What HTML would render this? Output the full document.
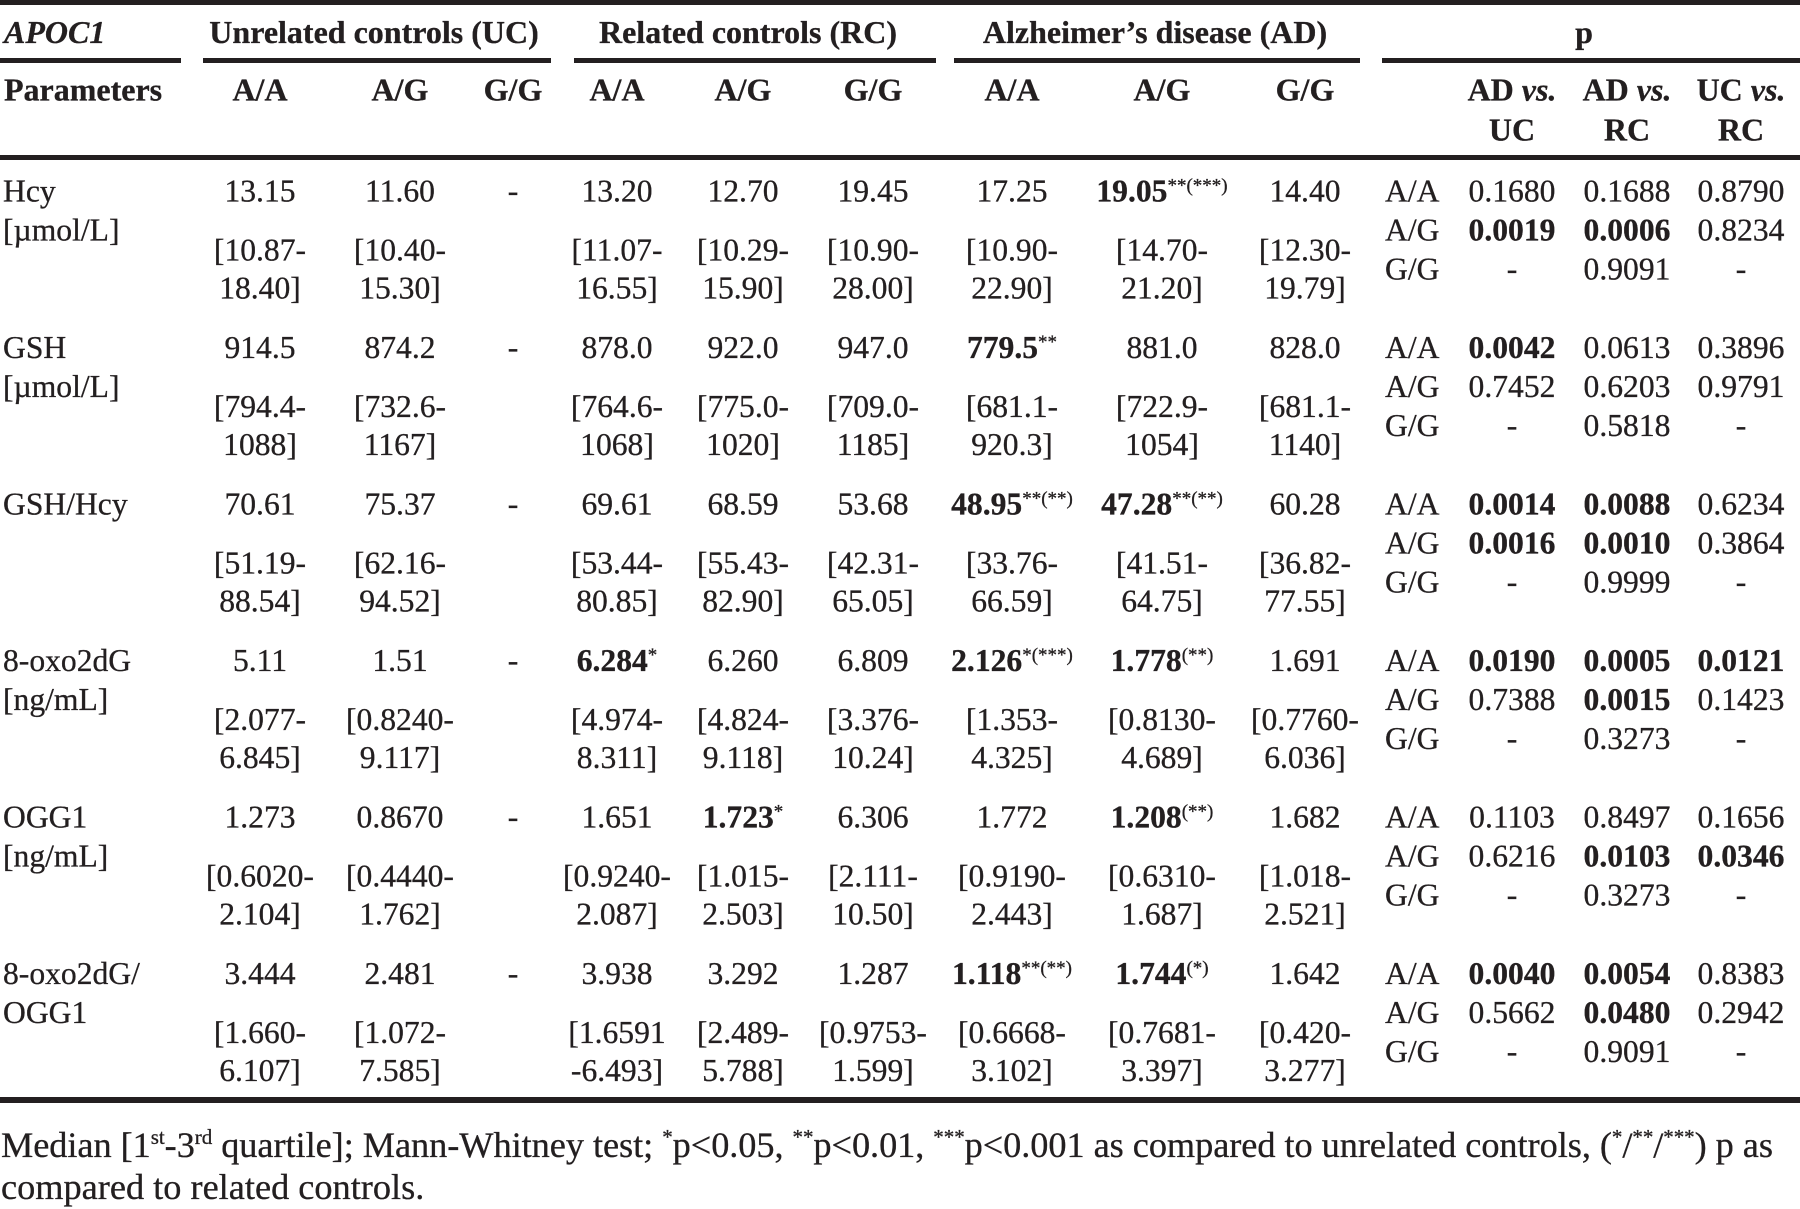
<!DOCTYPE html>
<html>
<head>
<meta charset="utf-8">
<style>
html,body{margin:0;padding:0;background:#fff;}
svg{display:block;}
text{font-family:"Liberation Serif","Times New Roman",serif;fill:#231f20;stroke:#231f20;stroke-width:0.3px;}
.h{font-size:32px;font-weight:bold;}
.d{font-size:31.6px;}
.c{text-anchor:middle;}
.b{font-weight:bold;}
.i{font-style:italic;}
</style>
</head>
<body>
<svg width="1800" height="1209" viewBox="0 0 1800 1209" xmlns="http://www.w3.org/2000/svg">
<!-- rules -->
<g fill="#231f20">
<rect x="0" y="0" width="1800" height="5"/>
<rect x="0" y="58" width="181" height="5"/>
<rect x="203" y="58" width="348" height="5"/>
<rect x="574" y="58" width="362" height="5"/>
<rect x="954" y="58" width="406" height="5"/>
<rect x="1382" y="58" width="418" height="5"/>
<rect x="0" y="155" width="1800" height="5"/>
<rect x="0" y="1097" width="1800" height="6"/>
</g>

<!-- header row 1 -->
<text x="4" y="43" class="h i">APOC1</text>
<text x="374" y="43" class="h c">Unrelated controls (UC)</text>
<text x="748" y="43" class="h c">Related controls (RC)</text>
<text x="1155" y="43" class="h c">Alzheimer’s disease (AD)</text>
<text x="1584" y="43" class="h c">p</text>

<!-- header row 2 -->
<text x="4" y="100.7" class="h">Parameters</text>
<g class="h c">
<text x="260" y="100.7">A/A</text>
<text x="400" y="100.7">A/G</text>
<text x="513" y="100.7">G/G</text>
<text x="617" y="100.7">A/A</text>
<text x="743" y="100.7">A/G</text>
<text x="873" y="100.7">G/G</text>
<text x="1012" y="100.7">A/A</text>
<text x="1162" y="100.7">A/G</text>
<text x="1305" y="100.7">G/G</text>
<text x="1512" y="100.7">AD <tspan class="i">vs.</tspan></text>
<text x="1512" y="140.7">UC</text>
<text x="1627" y="100.7">AD <tspan class="i">vs.</tspan></text>
<text x="1627" y="140.7">RC</text>
<text x="1741" y="100.7">UC <tspan class="i">vs.</tspan></text>
<text x="1741" y="140.7">RC</text>
</g>

<!-- labels -->
<g class="d">
<text x="3" y="201.7">Hcy</text>
<text x="3" y="240.5">[µmol/L]</text>
<text x="3" y="358.2">GSH</text>
<text x="3" y="397">[µmol/L]</text>
<text x="3" y="514.7">GSH/Hcy</text>
<text x="3" y="671.2">8-oxo2dG</text>
<text x="3" y="710">[ng/mL]</text>
<text x="3" y="827.7">OGG1</text>
<text x="3" y="866.5">[ng/mL]</text>
<text x="3" y="984.2">8-oxo2dG/</text>
<text x="3" y="1023">OGG1</text>
</g>

<!-- data -->
<g class="d c">
<!-- Row 1: Hcy  B=201.7 -->
<text x="260" y="201.7">13.15</text><text x="260" y="260.4">[10.87-</text><text x="260" y="298.5">18.40]</text>
<text x="400" y="201.7">11.60</text><text x="400" y="260.4">[10.40-</text><text x="400" y="298.5">15.30]</text>
<text x="513" y="201.7">-</text>
<text x="617" y="201.7">13.20</text><text x="617" y="260.4">[11.07-</text><text x="617" y="298.5">16.55]</text>
<text x="743" y="201.7">12.70</text><text x="743" y="260.4">[10.29-</text><text x="743" y="298.5">15.90]</text>
<text x="873" y="201.7">19.45</text><text x="873" y="260.4">[10.90-</text><text x="873" y="298.5">28.00]</text>
<text x="1012" y="201.7">17.25</text><text x="1012" y="260.4">[10.90-</text><text x="1012" y="298.5">22.90]</text>
<text x="1162" y="201.7"><tspan class="b">19.05</tspan><tspan font-size="19" dy="-10">**(***)</tspan></text><text x="1162" y="260.4">[14.70-</text><text x="1162" y="298.5">21.20]</text>
<text x="1305" y="201.7">14.40</text><text x="1305" y="260.4">[12.30-</text><text x="1305" y="298.5">19.79]</text>

<!-- Row 2: GSH B=358.2 -->
<text x="260" y="358.2">914.5</text><text x="260" y="416.9">[794.4-</text><text x="260" y="455">1088]</text>
<text x="400" y="358.2">874.2</text><text x="400" y="416.9">[732.6-</text><text x="400" y="455">1167]</text>
<text x="513" y="358.2">-</text>
<text x="617" y="358.2">878.0</text><text x="617" y="416.9">[764.6-</text><text x="617" y="455">1068]</text>
<text x="743" y="358.2">922.0</text><text x="743" y="416.9">[775.0-</text><text x="743" y="455">1020]</text>
<text x="873" y="358.2">947.0</text><text x="873" y="416.9">[709.0-</text><text x="873" y="455">1185]</text>
<text x="1012" y="358.2"><tspan class="b">779.5</tspan><tspan font-size="19" dy="-10">**</tspan></text><text x="1012" y="416.9">[681.1-</text><text x="1012" y="455">920.3]</text>
<text x="1162" y="358.2">881.0</text><text x="1162" y="416.9">[722.9-</text><text x="1162" y="455">1054]</text>
<text x="1305" y="358.2">828.0</text><text x="1305" y="416.9">[681.1-</text><text x="1305" y="455">1140]</text>

<!-- Row 3: GSH/Hcy B=514.7 -->
<text x="260" y="514.7">70.61</text><text x="260" y="573.4">[51.19-</text><text x="260" y="611.5">88.54]</text>
<text x="400" y="514.7">75.37</text><text x="400" y="573.4">[62.16-</text><text x="400" y="611.5">94.52]</text>
<text x="513" y="514.7">-</text>
<text x="617" y="514.7">69.61</text><text x="617" y="573.4">[53.44-</text><text x="617" y="611.5">80.85]</text>
<text x="743" y="514.7">68.59</text><text x="743" y="573.4">[55.43-</text><text x="743" y="611.5">82.90]</text>
<text x="873" y="514.7">53.68</text><text x="873" y="573.4">[42.31-</text><text x="873" y="611.5">65.05]</text>
<text x="1012" y="514.7"><tspan class="b">48.95</tspan><tspan font-size="19" dy="-10">**(**)</tspan></text><text x="1012" y="573.4">[33.76-</text><text x="1012" y="611.5">66.59]</text>
<text x="1162" y="514.7"><tspan class="b">47.28</tspan><tspan font-size="19" dy="-10">**(**)</tspan></text><text x="1162" y="573.4">[41.51-</text><text x="1162" y="611.5">64.75]</text>
<text x="1305" y="514.7">60.28</text><text x="1305" y="573.4">[36.82-</text><text x="1305" y="611.5">77.55]</text>

<!-- Row 4: 8-oxo2dG B=671.2 -->
<text x="260" y="671.2">5.11</text><text x="260" y="729.9">[2.077-</text><text x="260" y="768">6.845]</text>
<text x="400" y="671.2">1.51</text><text x="400" y="729.9">[0.8240-</text><text x="400" y="768">9.117]</text>
<text x="513" y="671.2">-</text>
<text x="617" y="671.2"><tspan class="b">6.284</tspan><tspan font-size="19" dy="-10">*</tspan></text><text x="617" y="729.9">[4.974-</text><text x="617" y="768">8.311]</text>
<text x="743" y="671.2">6.260</text><text x="743" y="729.9">[4.824-</text><text x="743" y="768">9.118]</text>
<text x="873" y="671.2">6.809</text><text x="873" y="729.9">[3.376-</text><text x="873" y="768">10.24]</text>
<text x="1012" y="671.2"><tspan class="b">2.126</tspan><tspan font-size="19" dy="-10">*(***)</tspan></text><text x="1012" y="729.9">[1.353-</text><text x="1012" y="768">4.325]</text>
<text x="1162" y="671.2"><tspan class="b">1.778</tspan><tspan font-size="19" dy="-10">(**)</tspan></text><text x="1162" y="729.9">[0.8130-</text><text x="1162" y="768">4.689]</text>
<text x="1305" y="671.2">1.691</text><text x="1305" y="729.9">[0.7760-</text><text x="1305" y="768">6.036]</text>

<!-- Row 5: OGG1 B=827.7 -->
<text x="260" y="827.7">1.273</text><text x="260" y="886.4">[0.6020-</text><text x="260" y="924.5">2.104]</text>
<text x="400" y="827.7">0.8670</text><text x="400" y="886.4">[0.4440-</text><text x="400" y="924.5">1.762]</text>
<text x="513" y="827.7">-</text>
<text x="617" y="827.7">1.651</text><text x="617" y="886.4">[0.9240-</text><text x="617" y="924.5">2.087]</text>
<text x="743" y="827.7"><tspan class="b">1.723</tspan><tspan font-size="19" dy="-10">*</tspan></text><text x="743" y="886.4">[1.015-</text><text x="743" y="924.5">2.503]</text>
<text x="873" y="827.7">6.306</text><text x="873" y="886.4">[2.111-</text><text x="873" y="924.5">10.50]</text>
<text x="1012" y="827.7">1.772</text><text x="1012" y="886.4">[0.9190-</text><text x="1012" y="924.5">2.443]</text>
<text x="1162" y="827.7"><tspan class="b">1.208</tspan><tspan font-size="19" dy="-10">(**)</tspan></text><text x="1162" y="886.4">[0.6310-</text><text x="1162" y="924.5">1.687]</text>
<text x="1305" y="827.7">1.682</text><text x="1305" y="886.4">[1.018-</text><text x="1305" y="924.5">2.521]</text>

<!-- Row 6: 8-oxo2dG/OGG1 B=984.2 -->
<text x="260" y="984.2">3.444</text><text x="260" y="1042.9">[1.660-</text><text x="260" y="1081">6.107]</text>
<text x="400" y="984.2">2.481</text><text x="400" y="1042.9">[1.072-</text><text x="400" y="1081">7.585]</text>
<text x="513" y="984.2">-</text>
<text x="617" y="984.2">3.938</text><text x="617" y="1042.9">[1.6591</text><text x="617" y="1081">-6.493]</text>
<text x="743" y="984.2">3.292</text><text x="743" y="1042.9">[2.489-</text><text x="743" y="1081">5.788]</text>
<text x="873" y="984.2">1.287</text><text x="873" y="1042.9">[0.9753-</text><text x="873" y="1081">1.599]</text>
<text x="1012" y="984.2"><tspan class="b">1.118</tspan><tspan font-size="19" dy="-10">**(**)</tspan></text><text x="1012" y="1042.9">[0.6668-</text><text x="1012" y="1081">3.102]</text>
<text x="1162" y="984.2"><tspan class="b">1.744</tspan><tspan font-size="19" dy="-10">(*)</tspan></text><text x="1162" y="1042.9">[0.7681-</text><text x="1162" y="1081">3.397]</text>
<text x="1305" y="984.2">1.642</text><text x="1305" y="1042.9">[0.420-</text><text x="1305" y="1081">3.277]</text>
</g>

<!-- p genotype labels -->
<g class="d">
<text x="1385" y="201.7">A/A</text><text x="1385" y="240.5">A/G</text><text x="1385" y="279.3">G/G</text>
<text x="1385" y="358.2">A/A</text><text x="1385" y="397">A/G</text><text x="1385" y="435.8">G/G</text>
<text x="1385" y="514.7">A/A</text><text x="1385" y="553.5">A/G</text><text x="1385" y="592.3">G/G</text>
<text x="1385" y="671.2">A/A</text><text x="1385" y="710">A/G</text><text x="1385" y="748.8">G/G</text>
<text x="1385" y="827.7">A/A</text><text x="1385" y="866.5">A/G</text><text x="1385" y="905.3">G/G</text>
<text x="1385" y="984.2">A/A</text><text x="1385" y="1023">A/G</text><text x="1385" y="1061.8">G/G</text>
</g>

<!-- p values -->
<g class="d c">
<text x="1512" y="201.7">0.1680</text><text x="1627" y="201.7">0.1688</text><text x="1741" y="201.7">0.8790</text>
<text x="1512" y="240.5" class="b">0.0019</text><text x="1627" y="240.5" class="b">0.0006</text><text x="1741" y="240.5">0.8234</text>
<text x="1512" y="279.3">-</text><text x="1627" y="279.3">0.9091</text><text x="1741" y="279.3">-</text>

<text x="1512" y="358.2" class="b">0.0042</text><text x="1627" y="358.2">0.0613</text><text x="1741" y="358.2">0.3896</text>
<text x="1512" y="397">0.7452</text><text x="1627" y="397">0.6203</text><text x="1741" y="397">0.9791</text>
<text x="1512" y="435.8">-</text><text x="1627" y="435.8">0.5818</text><text x="1741" y="435.8">-</text>

<text x="1512" y="514.7" class="b">0.0014</text><text x="1627" y="514.7" class="b">0.0088</text><text x="1741" y="514.7">0.6234</text>
<text x="1512" y="553.5" class="b">0.0016</text><text x="1627" y="553.5" class="b">0.0010</text><text x="1741" y="553.5">0.3864</text>
<text x="1512" y="592.3">-</text><text x="1627" y="592.3">0.9999</text><text x="1741" y="592.3">-</text>

<text x="1512" y="671.2" class="b">0.0190</text><text x="1627" y="671.2" class="b">0.0005</text><text x="1741" y="671.2" class="b">0.0121</text>
<text x="1512" y="710">0.7388</text><text x="1627" y="710" class="b">0.0015</text><text x="1741" y="710">0.1423</text>
<text x="1512" y="748.8">-</text><text x="1627" y="748.8">0.3273</text><text x="1741" y="748.8">-</text>

<text x="1512" y="827.7">0.1103</text><text x="1627" y="827.7">0.8497</text><text x="1741" y="827.7">0.1656</text>
<text x="1512" y="866.5">0.6216</text><text x="1627" y="866.5" class="b">0.0103</text><text x="1741" y="866.5" class="b">0.0346</text>
<text x="1512" y="905.3">-</text><text x="1627" y="905.3">0.3273</text><text x="1741" y="905.3">-</text>

<text x="1512" y="984.2" class="b">0.0040</text><text x="1627" y="984.2" class="b">0.0054</text><text x="1741" y="984.2">0.8383</text>
<text x="1512" y="1023">0.5662</text><text x="1627" y="1023" class="b">0.0480</text><text x="1741" y="1023">0.2942</text>
<text x="1512" y="1061.8">-</text><text x="1627" y="1061.8">0.9091</text><text x="1741" y="1061.8">-</text>
</g>

<!-- footnote -->
<text x="1" y="1157" font-size="36.3" textLength="1772" lengthAdjust="spacing">Median [1<tspan font-size="21" dy="-13">st</tspan><tspan dy="13">-3</tspan><tspan font-size="21" dy="-13">rd</tspan><tspan dy="13"> quartile]; Mann-Whitney test; </tspan><tspan font-size="21" dy="-13">*</tspan><tspan dy="13">p&lt;0.05, </tspan><tspan font-size="21" dy="-13">**</tspan><tspan dy="13">p&lt;0.01, </tspan><tspan font-size="21" dy="-13">***</tspan><tspan dy="13">p&lt;0.001 as compared to unrelated controls, (</tspan><tspan font-size="21" dy="-13">*</tspan><tspan dy="13">/</tspan><tspan font-size="21" dy="-13">**</tspan><tspan dy="13">/</tspan><tspan font-size="21" dy="-13">***</tspan><tspan dy="13">) p as</tspan></text>
<text x="1" y="1199" font-size="36.3">compared to related controls.</text>
</svg>
</body>
</html>
